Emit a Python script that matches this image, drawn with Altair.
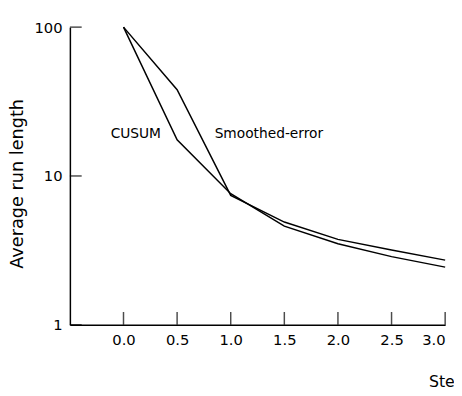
import altair as alt
import pandas as pd

steps = [0.0, 0.5, 1.0, 1.5, 2.0, 2.5, 3.0]
cusum = [100, 17.5, 7.6, 4.6, 3.5, 2.87, 2.44]
smoothed = [100, 38, 7.4, 4.9, 3.75, 3.18, 2.72]

x_ticks = [0.0, 0.5, 1.0, 1.5, 2.0, 2.5, 3.0]
y_ticks = [1, 10, 100]

label_text = ["CUSUM", "Smoothed-error"]
label_x = [-0.12, 0.85]
label_y = [19, 19]

rows = []
for s, c, m in zip(steps, cusum, smoothed):
    rows.append({"step": s, "arl": c, "series": "CUSUM"})
    rows.append({"step": s, "arl": m, "series": "Smoothed-error"})
df = pd.DataFrame(rows)

FONT = "DejaVu Sans"
W, H = 382, 303

xscale = alt.Scale(domain=[-0.5, 3.0], nice=False, zero=False)
yscale = alt.Scale(type="log", domain=[1, 100], nice=False)

lines = alt.Chart(df).mark_line(color="black", strokeWidth=1.5).encode(
    x=alt.X("step:Q", scale=xscale,
            axis=alt.Axis(values=x_ticks, format=".1f", ticks=False, grid=False,
                          domainColor="black", domainWidth=1.5,
                          labelFont=FONT, labelFontSize=15, labelColor="black",
                          labelPadding=8,
                          title="Step", titleFont=FONT, titleFontSize=16,
                          titleFontWeight="normal", titleColor="black",
                          titleX=365, titleY=58, titleAlign="left",
                          titleBaseline="middle")),
    y=alt.Y("arl:Q", scale=yscale,
            axis=alt.Axis(values=y_ticks, format="d", ticks=False, grid=False,
                          domainColor="black", domainWidth=1.5,
                          labelFont=FONT, labelFontSize=15, labelColor="black",
                          labelPadding=8,
                          title="Average run length", titleFont=FONT,
                          titleFontSize=18, titleFontWeight="normal",
                          titleColor="black", titleX=-53, titleY=159,
                          titleAngle=270, titleAlign="center",
                          titleBaseline="middle")),
    detail="series:N",
)

# inward ticks drawn as tick marks (their layers carry no axis of their own)
xt = alt.Chart(pd.DataFrame({"step": x_ticks})).mark_tick(
    color="black", thickness=1.5, size=13, orient="vertical").encode(
    x=alt.X("step:Q", scale=xscale, axis=None),
    y=alt.value(H - 6.5),
)
yt = alt.Chart(pd.DataFrame({"arl": y_ticks})).mark_tick(
    color="black", thickness=1.5, size=12, orient="horizontal").encode(
    y=alt.Y("arl:Q", scale=yscale, axis=None),
    x=alt.value(6),
)

labels_df = pd.DataFrame({"t": label_text, "step": label_x, "arl": label_y})
labels = alt.Chart(labels_df).mark_text(font=FONT, fontSize=14, color="black",
                                        align="left", baseline="middle").encode(
    x=alt.X("step:Q", scale=xscale, axis=None),
    y=alt.Y("arl:Q", scale=yscale, axis=None),
    text="t:N",
)

chart = alt.layer(lines, xt, yt, labels).resolve_axis(
    x="independent", y="independent"
).properties(
    width=W, height=H,
    autosize=alt.AutoSizeParams(type="none"),
    padding={"left": 63, "top": 16, "right": 9, "bottom": 69},
    background="white",
).configure_view(stroke=None)

chart.save("out.html", embed_options={"renderer": "svg", "actions": False})
